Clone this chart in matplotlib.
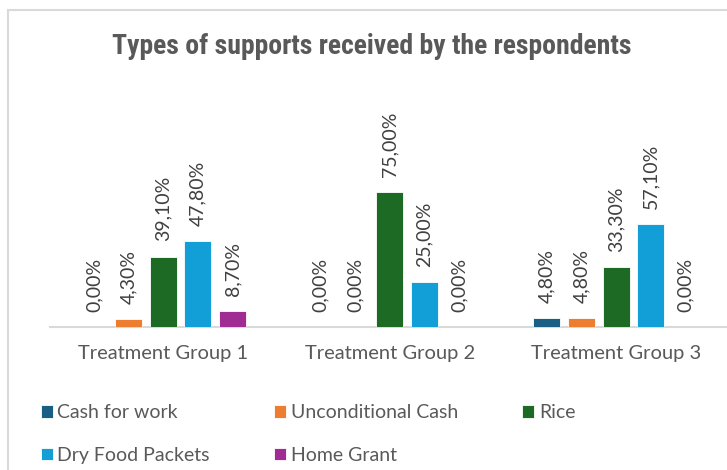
import matplotlib
matplotlib.use("Agg")
import matplotlib.pyplot as plt
from matplotlib import font_manager
from matplotlib.patches import Rectangle
import numpy as np

# ---- data ----
categories = ["Treatment Group 1", "Treatment Group 2", "Treatment Group 3"]
series_names = ["Cash for work", "Unconditional Cash", "Rice", "Dry Food Packets", "Home Grant"]
cash_for_work = [0.0, 0.0, 4.8]
unconditional_cash = [4.3, 0.0, 4.8]
rice = [39.1, 75.0, 33.3]
dry_food_packets = [47.8, 25.0, 57.1]
home_grant = [8.7, 0.0, 0.0]
title = "Types of supports received by the respondents"

series_values = [cash_for_work, unconditional_cash, rice, dry_food_packets, home_grant]
colors = ["#1B5E85", "#ED7D31", "#1C6A24", "#129ED6", "#A02B93"]

# ---- fonts ----
names = {f.name for f in font_manager.fontManager.ttflist}
base_font = "Lato" if "Lato" in names else "DejaVu Sans"
title_font = None
for cand in ["Roboto Condensed", "Open Sans Condensed", "Liberation Sans Narrow",
             "DejaVu Sans Condensed", "Noto Sans Condensed"]:
    if cand in names:
        title_font = cand
        break
if title_font is None:
    cond = [f for f in font_manager.fontManager.ttflist
            if f.stretch in ("condensed", "semi-condensed", 75, 87.5) or "Condensed" in f.fname]
    if cond:
        title_kw = dict(family=cond[0].name, fontstretch="condensed")
    else:
        title_kw = dict(family="Open Sans", fontstretch="condensed")
else:
    title_kw = dict(family=title_font)

text_color = "#595959"

W, H = 727, 470
fig = plt.figure(figsize=(W / 100, H / 100), dpi=100)
fig.patch.set_facecolor("white")

# chart border (light gray), running off right/bottom edges
fig.patches.append(Rectangle((8 / W, -0.1), 1.2, (H - 10) / H + 0.1,
                             transform=fig.transFigure, fill=False,
                             edgecolor="#D9D9D9", linewidth=1.5))

ax_left = 50 / W
ax_bottom = 1 - 327 / H
ax_width = 679.5 / W
ax_height = 180 / H
ax = fig.add_axes([ax_left, ax_bottom, ax_width, ax_height])
ax.set_facecolor("none")

x = np.arange(len(categories))
pitch = 0.1532
bw = 0.1195
n = len(series_names)
handles = []
for i, (name, vals, col) in enumerate(zip(series_names, series_values, colors)):
    offs = (i - (n - 1) / 2) * pitch
    bars = ax.bar(x + offs, vals, width=bw, color=col, label=name,
                  edgecolor="white", linewidth=0.6, zorder=3)
    handles.append(bars)
    for b, v in zip(bars, vals):
        ax.annotate(f"{v:.2f}".replace(".", ",") + "%",
                    xy=(b.get_x() + b.get_width() / 2, b.get_height()),
                    xytext=(0, 11), textcoords="offset points",
                    rotation=90, ha="center", va="bottom",
                    fontsize=14, color="#404040", family=base_font,
                    annotation_clip=False)

ax.set_xlim(-0.5, 2.5)
ax.set_ylim(0, 100)
ax.set_yticks([])
ax.set_xticks(x)
ax.set_xticklabels(categories, fontsize=14.5, color=text_color, family=base_font)
ax.tick_params(axis="x", length=0, pad=13)
for s in ["top", "right", "left"]:
    ax.spines[s].set_visible(False)
ax.spines["bottom"].set_color("#D9D9D9")
ax.spines["bottom"].set_linewidth(1.5)
ax.spines["bottom"].set_zorder(2)

fig.text(372 / W, 1 - 46 / H, title, ha="center", va="center",
         fontsize=20, fontweight="bold", color=text_color, **title_kw)

# legend laid out row-wise: matplotlib fills columns first
order = [0, 3, 1, 4, 2]
leg = fig.legend([handles[k] for k in order], [series_names[k] for k in order],
                 loc="upper left", bbox_to_anchor=(23 / W, 1 - 387 / H),
                 ncol=3, frameon=False,
                 handlelength=0.62, handleheight=0.62, handletextpad=0.25,
                 columnspacing=3.3, labelspacing=1.3,
                 prop={"family": base_font, "size": 14})
for t in leg.get_texts():
    t.set_color(text_color)

fig.savefig("out.png", dpi=100, facecolor="white")
